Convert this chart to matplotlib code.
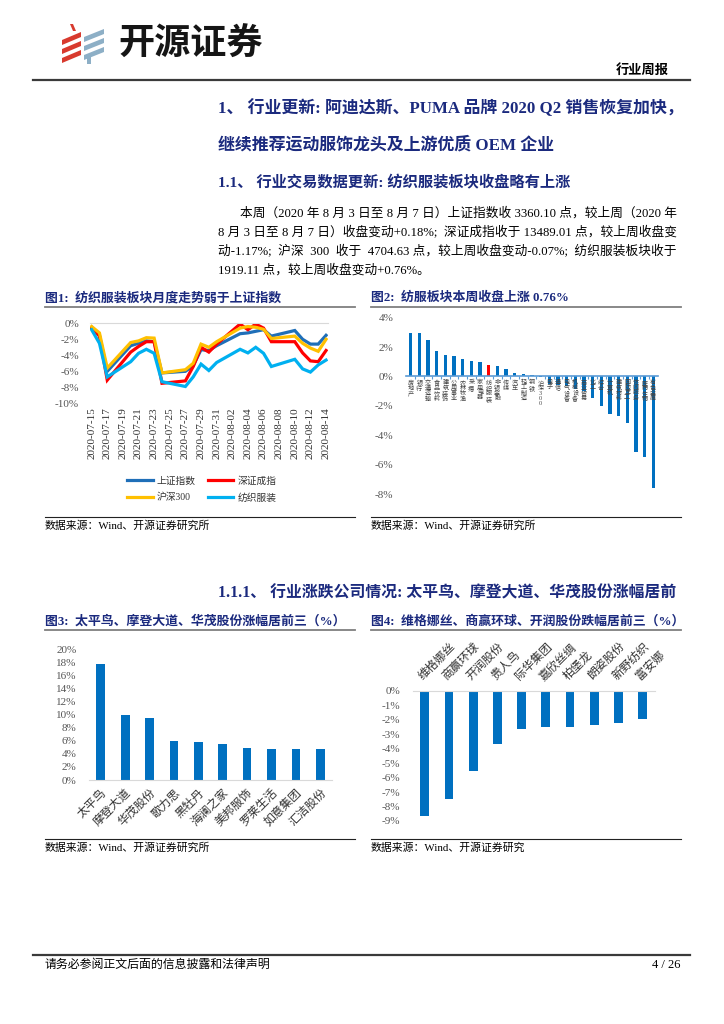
import matplotlib
matplotlib.use('Agg')
import matplotlib.pyplot as plt
import matplotlib.dates as mdates
from matplotlib.patches import Polygon
import pandas as pd

plt.rcParams['font.family'] = ['Liberation Serif', 'Noto Sans CJK SC']
plt.rcParams['axes.unicode_minus'] = False

W, H = 724, 1024
NAVY = '#1B2A7E'
BAR = '#0070C0'

# 图1 数据
dates = ['2020-07-15', '2020-07-16', '2020-07-17', '2020-07-20', '2020-07-21', '2020-07-22',
         '2020-07-23', '2020-07-24', '2020-07-27', '2020-07-28', '2020-07-29', '2020-07-30',
         '2020-07-31', '2020-08-03', '2020-08-04', '2020-08-05', '2020-08-06', '2020-08-07',
         '2020-08-10', '2020-08-11', '2020-08-12', '2020-08-13', '2020-08-14']
shIndex = [-0.6, -1.5, -6.0, -2.8, -2.5, -2.2, -2.3, -6.2, -6.0, -5.3, -3.3, -3.4,
           -2.8, -1.3, -1.2, -1.0, -0.8, -1.6, -0.9, -2.0, -2.6, -2.6, -1.5]
szIndex = [-0.5, -1.6, -7.1, -3.6, -2.9, -2.3, -2.3, -7.5, -7.2, -5.4, -3.0, -3.6,
           -2.6, -0.1, -0.8, -0.1, -0.6, -2.3, -2.3, -3.7, -4.7, -4.8, -3.4]
hs300 = [-0.4, -1.2, -5.6, -2.4, -2.2, -1.8, -1.85, -6.2, -5.8, -5.0, -2.6, -3.0,
         -2.3, -0.6, -0.4, -0.5, -0.75, -1.9, -1.6, -2.5, -3.1, -3.5, -2.0]
textile = [-0.8, -2.5, -6.7, -4.8, -3.75, -3.25, -3.75, -7.3, -7.9, -6.7, -5.1, -5.9,
           -4.9, -3.25, -3.7, -3.0, -3.75, -5.4, -4.5, -5.7, -6.1, -5.2, -4.6]
seriesNames = ['上证指数', '深证成指', '沪深300', '纺织服装']
seriesColors = ['#1F6FB8', '#FF0000', '#FFC000', '#00B0F0']

# 图2 数据
industries = ['房地产', '银行', '交通运输', '食品饮料', '建筑装饰', '公用事业', '农林牧渔', '采掘',
              '家用电器', '纺织服装', '非银金融', '传媒', '汽车', '轻工制造', '钢铁', '沪深300',
              '电子', '通信', '电气设备', '机械设备', '商业贸易', '化工', '综合', '计算机',
              '建筑材料', '国防军工', '休闲服务', '医药生物', '有色金属']
industryChg = [2.93, 2.93, 2.45, 1.73, 1.48, 1.41, 1.18, 1.02, 0.98, 0.76, 0.73, 0.48, 0.23,
               0.14, 0.11, -0.07, -0.50, -0.57, -0.66, -0.82, -0.98, -1.48, -1.98, -2.57,
               -2.68, -3.14, -5.11, -5.45, -7.57]

# 图3 数据
gainers = ['太平鸟', '摩登大道', '华茂股份', '歌力思', '黑牡丹', '海澜之家', '美邦服饰',
           '罗莱生活', '如意集团', '汇洁股份']
gainersChg = [17.76, 9.90, 9.49, 5.97, 5.82, 5.51, 4.95, 4.80, 4.74, 4.69]

# 图4 数据
losers = ['维格娜丝', '商赢环球', '开润股份', '贵人鸟', '际华集团', '嘉欣丝绸', '柏堡龙',
          '朗姿股份', '新野纺织', '富安娜']
losersChg = [-8.64, -7.48, -5.57, -3.69, -2.61, -2.52, -2.52, -2.38, -2.24, -1.92]


def box(x0, y0, x1, y1):
    """像素坐标 -> figure 坐标"""
    return [x0 / W, 1 - y1 / H, (x1 - x0) / W, (y1 - y0) / H]


fig = plt.figure(figsize=(W / 100, H / 100), dpi=100)
page = fig.add_axes([0, 0, 1, 1])
page.set_xlim(0, W)
page.set_ylim(H, 0)
page.axis('off')

# 页眉 logo
red = '#D83A2E'
grey = '#8DAFC6'
for yb in (45, 54, 63):
    page.add_patch(Polygon([(62, yb), (62, yb - 5), (81, yb - 13), (81, yb - 8)], color=red, lw=0))
page.add_patch(Polygon([(70, 24), (73, 24), (76, 31), (73, 31)], color=red, lw=0))
for yb in (42, 51, 60):
    page.add_patch(Polygon([(84, yb), (84, yb - 5), (104, yb - 13), (104, yb - 8)], color=grey, lw=0))
page.add_patch(Polygon([(87, 57), (91, 57), (91, 64), (87, 64)], color=grey, lw=0))
page.text(118, 44, '开源证券', fontsize=26, fontweight='bold', family='Noto Sans CJK SC',
          va='center', ha='left', color='#151515')
page.text(669, 71, '行业周报', fontsize=9.5, fontweight='bold', ha='right', va='center')
page.plot([33, 690], [80, 80], color='#3A3A3A', lw=1.6)

# 标题与正文
page.text(218, 108, '1、 行业更新: 阿迪达斯、PUMA 品牌 2020 Q2 销售恢复加快，', fontsize=12.2,
          fontweight='bold', color=NAVY, va='center')
page.text(218, 145, '继续推荐运动服饰龙头及上游优质 OEM 企业', fontsize=12.2,
          fontweight='bold', color=NAVY, va='center')
page.text(218, 183, '1.1、 行业交易数据更新: 纺织服装板块收盘略有上涨', fontsize=11,
          fontweight='bold', color=NAVY, va='center')
body = [(240, '本周（2020 年 8 月 3 日至 8 月 7 日）上证指数收 3360.10 点，较上周（2020 年'),
        (218, '8 月 3 日至 8 月 7 日）收盘变动+0.18%;  深证成指收于 13489.01 点，较上周收盘变'),
        (218, '动-1.17%;  沪深  300  收于  4704.63 点，较上周收盘变动-0.07%;  纺织服装板块收于'),
        (218, '1919.11 点，较上周收盘变动+0.76%。')]
for i, (x, line) in enumerate(body):
    page.text(x, 213 + 19 * i, line, fontsize=9.15, va='center')

page.text(218, 593, '1.1.1、 行业涨跌公司情况: 太平鸟、摩登大道、华茂股份涨幅居前', fontsize=11.4,
          fontweight='bold', color=NAVY, va='center')

# 图表标题、下划线、来源
titles = [(45, 298, '图1:  纺织服装板块月度走势弱于上证指数'),
          (371, 298, '图2:  纺服板块本周收盘上涨 0.76%'),
          (45, 621, '图3:  太平鸟、摩登大道、华茂股份涨幅居前三（%）'),
          (371, 621, '图4:  维格娜丝、商赢环球、开润股份跌幅居前三（%）')]
for x, y, t in titles:
    page.text(x, y, t, fontsize=9.3, fontweight='bold', color=NAVY, va='center')
    page.plot([x, x + 310], [y + 8.5, y + 8.5], color='#7F7F7F', lw=1.3)

sources = [(45, 517, '数据来源：Wind、开源证券研究所'),
           (371, 517, '数据来源：Wind、开源证券研究所'),
           (45, 838.5, '数据来源：Wind、开源证券研究所'),
           (371, 838.5, '数据来源：Wind、开源证券研究')]
for x, y, t in sources:
    page.plot([x, x + 310], [y, y], color='#222222', lw=0.8)
    page.text(x, y + 9, t, fontsize=7.8, va='center')

# 页脚
page.plot([33, 690], [955, 955], color='#3A3A3A', lw=1.6)
page.text(45, 965, '请务必参阅正文后面的信息披露和法律声明', fontsize=8.6, va='center')
page.text(680, 965, '4 / 26', fontsize=9, va='center', ha='right')

# 图1 折线
ax1 = fig.add_axes(box(90, 323.3, 328, 403.3))
dt = pd.to_datetime(dates)
lines = []
for vals, name, c in zip([shIndex, szIndex, hs300, textile], seriesNames, seriesColors):
    ln, = ax1.plot(dt, vals, color=c, lw=2.3, label=name, solid_joinstyle='miter')
    lines.append(ln)
ax1.set_ylim(-10, 0)
ax1.set_yticks(range(-10, 1, 2))
ax1.set_yticklabels([f'{v}%' for v in range(-10, 1, 2)])
ticks = pd.date_range('2020-07-15', '2020-08-14', freq='2D')
ax1.set_xticks(ticks)
ax1.xaxis.set_major_formatter(mdates.DateFormatter('%Y-%m-%d'))
ax1.set_xlim(dt[0] - pd.Timedelta(hours=5), dt[-1] + pd.Timedelta(hours=6))
ax1.tick_params(axis='x', rotation=90, length=0, pad=3, labelsize=8, colors='#333333')
ax1.tick_params(axis='y', length=0, pad=8, labelsize=8, colors='#555555')
for s in ['left', 'right', 'bottom']:
    ax1.spines[s].set_visible(False)
ax1.spines['top'].set_color('#D9D9D9')
ax1.patch.set_alpha(0)
# 按列填充 -> 第一行 上证/深证，第二行 沪深300/纺织服装
legOrder = [lines[0], lines[2], lines[1], lines[3]]
leg = ax1.legend(handles=legOrder, ncol=2, loc='upper center', bbox_to_anchor=(0.47, -0.8),
                 frameon=False, fontsize=7, handlelength=2.6, columnspacing=1.3,
                 labelspacing=0.75, handletextpad=0.4)
for t in leg.get_texts():
    t.set_color('#333333')

# 图2 柱状
ax2 = fig.add_axes(box(405.7, 317.7, 658.3, 494))
xs = list(range(len(industries)))
colors2 = ['#FF0000' if n == '纺织服装' else BAR for n in industries]
ax2.bar(xs, industryChg, width=0.38, color=colors2)
ax2.set_xlim(-0.58, len(industries) - 0.42)
ax2.set_ylim(-8, 4)
ax2.set_yticks(range(-8, 5, 2))
ax2.set_yticklabels([f'{v}%' for v in range(-8, 5, 2)])
ax2.tick_params(axis='y', length=0, pad=9, labelsize=8, colors='#555555')
for s in ['left', 'right', 'top']:
    ax2.spines[s].set_visible(False)
ax2.spines['bottom'].set_position(('data', 0))
ax2.spines['bottom'].set_color('#5B9BD5')
ax2.spines['bottom'].set_linewidth(1.2)
ax2.set_xticks([x + 0.5 for x in xs[:-1]])
ax2.set_xticklabels([])
ax2.tick_params(axis='x', length=2, color='#5B9BD5', direction='out')
ax2.patch.set_alpha(0)
for x, name in zip(xs, industries):
    ax2.text(x, -0.25, '\n'.join(name), fontsize=4.4, ha='center', va='top',
             linespacing=1.0, color='#444444')

# 图3 柱状
ax3 = fig.add_axes(box(89, 649.3, 332, 780))
ax3.bar(range(len(gainers)), gainersChg, width=0.36, color=BAR)
ax3.set_xlim(-0.48, len(gainers) - 0.52)
ax3.set_ylim(0, 20)
ax3.set_yticks(range(0, 21, 2))
ax3.set_yticklabels([f'{v}%' for v in range(0, 21, 2)])
ax3.set_xticks(range(len(gainers)))
ax3.set_xticklabels(gainers, rotation=45, ha='right', rotation_mode='anchor')
ax3.tick_params(axis='x', length=0, pad=5, labelsize=8.5, colors='#333333')
ax3.tick_params(axis='y', length=0, pad=9, labelsize=8, colors='#555555')
for s in ['left', 'right', 'top']:
    ax3.spines[s].set_visible(False)
ax3.spines['bottom'].set_color('#D9D9D9')
ax3.patch.set_alpha(0)

# 图4 柱状
ax4 = fig.add_axes(box(412.7, 691, 654.7, 821))
ax4.bar(range(len(losers)), losersChg, width=0.36, color=BAR)
ax4.set_xlim(-0.5, len(losers) - 0.5)
ax4.set_ylim(-9, 0)
ax4.set_yticks(range(-9, 1))
ax4.set_yticklabels([f'{v}%' for v in range(-9, 1)])
ax4.xaxis.tick_top()
ax4.set_xticks(range(len(losers)))
ax4.set_xticklabels(losers, rotation=45, ha='left', rotation_mode='anchor')
ax4.tick_params(axis='x', length=0, pad=6, labelsize=8.5, colors='#333333')
ax4.tick_params(axis='y', length=0, pad=9, labelsize=8, colors='#555555')
for s in ['left', 'right', 'bottom']:
    ax4.spines[s].set_visible(False)
ax4.spines['top'].set_color('#D9D9D9')
ax4.patch.set_alpha(0)

fig.savefig('out.png', dpi=100)
